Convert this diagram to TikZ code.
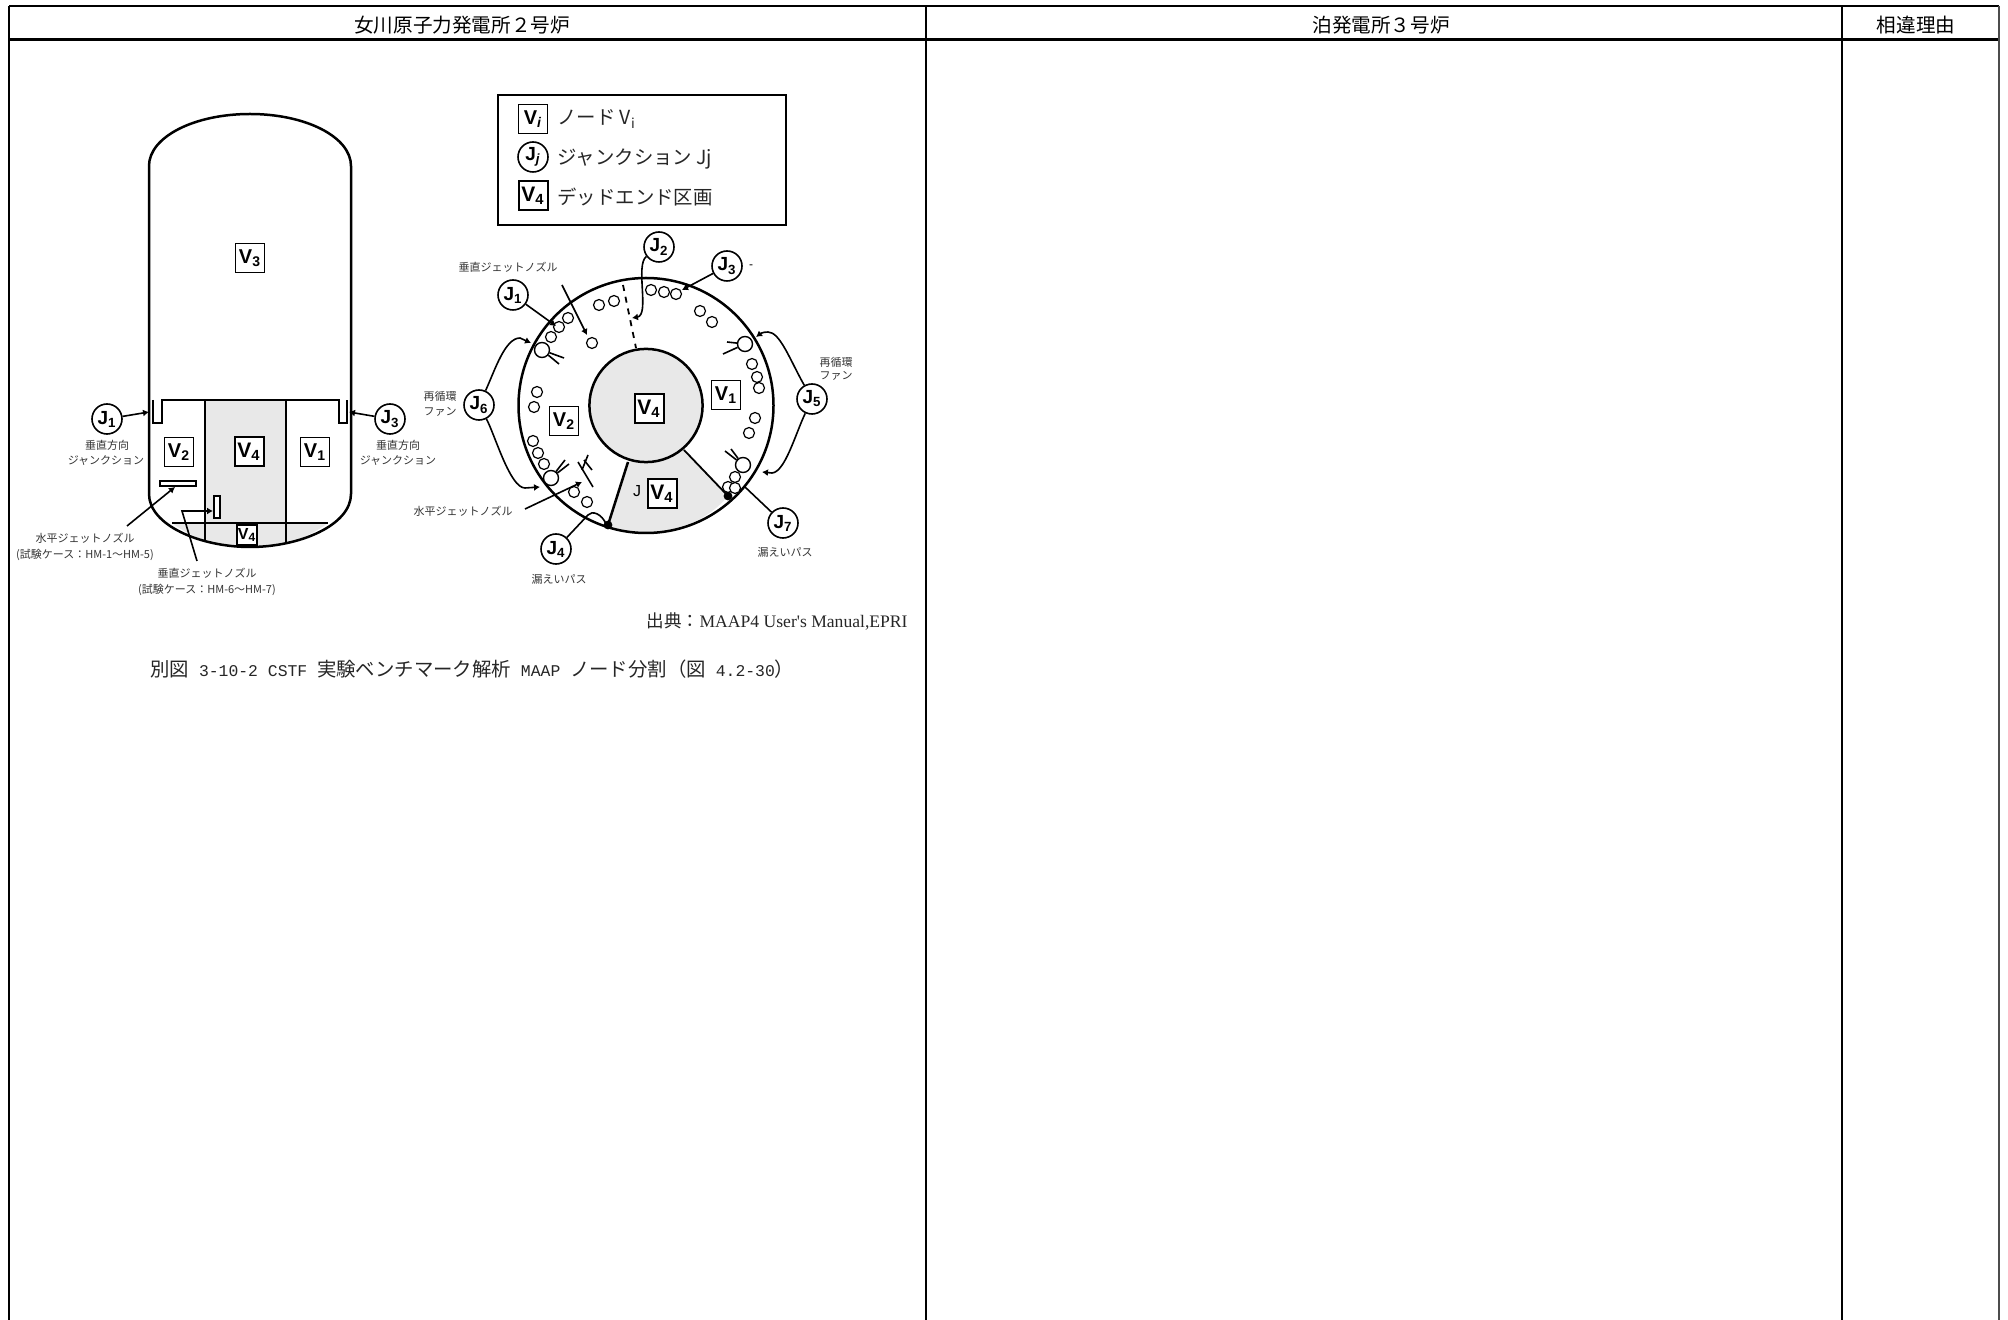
\documentclass[tikz,border=0pt]{standalone}
\usepackage{fontspec}
\setmainfont{Liberation Sans}
\newfontfamily\cjk{Noto Sans CJK JP}
\newfontfamily\serifl{Liberation Serif}
\newfontfamily\monol{Liberation Mono}
\usetikzlibrary{arrows.meta}
\newcommand{\fsz}[1]{\fontsize{#1}{#1}\selectfont}
\newcommand{\hw}[1]{{\monol\fsz{8.2}#1}}
\tikzset{
  x=0.5pt,y=-0.5pt,
  rule/.style={line width=1.2pt,black},
  vbox/.style={draw,line width=0.85pt,fill=white,minimum size=14.5pt,inner sep=0pt,font=\bfseries\fsz{10}},
  vboxd/.style={vbox,line width=1pt,font=\bfseries\fsz{10.5}},
  jcirc/.style={draw,circle,line width=0.8pt,fill=white,minimum size=15pt,inner sep=0pt,font=\bfseries\fsz{9.5}},
  wall/.style={line width=1.25pt,black},
  thin line/.style={line width=0.8pt,black},
  blobarrow/.style={line width=0.8pt,black,-{Latex[length=3pt,width=3.5pt]}},
  hole/.style={draw,circle,line width=0.6pt,minimum size=5.5pt,inner sep=0pt,fill=white},
  fanb/.style={draw,circle,line width=0.7pt,minimum size=7.5pt,inner sep=0pt,fill=white},
  tiny/.style={font=\cjk\fsz{5.5},text=black!80,inner sep=0pt},
  legendtext/.style={anchor=west,font=\cjk\fsz{9.7},inner sep=0pt,text=black!85},
  head/.style={font=\cjk\fsz{9.8},inner sep=0pt},
  deadfill/.style={fill=black!9},
}
\begin{document}
\begin{tikzpicture}
\useasboundingbox (0,0) rectangle (2008,1320);
% table
\draw[rule,line width=1.3pt] (9,6) -- (1999,6);
\draw[rule,line width=1.5pt] (9,40) -- (1999,40);
\draw[rule] (9,6) -- (9,1320);
\draw[rule] (926,6) -- (926,1320);
\draw[rule] (1842,6) -- (1842,1320);
\draw[rule,black!70] (1999,6) -- (1999,1320);
\node[head] (h1) at (462,25) {女川原子力発電所２号炉};
\node[head] (h2) at (1381,25) {泊発電所３号炉};
\node[head] (h3) at (1916,25) {相違理由};

% vessel (left view)
\fill[deadfill] (205,400) rectangle (286,523);
\fill[deadfill] (172,523) -- (328,523) .. controls (305,540) and (280,547) .. (250,547) .. controls (220,547) and (195,540) .. (172,523) -- cycle;
\draw[wall] (149,494) -- (149,166) .. controls (149,137) and (194,114) .. (250,114) .. controls (306,114) and (351,137) .. (351,166) -- (351,494)
  .. controls (351,525) and (300,547) .. (250,547) .. controls (200,547) and (149,525) .. (149,494) -- cycle;
\draw[wall] (153,400) -- (153,423) -- (162,423) -- (162,400) -- (339,400) -- (339,423) -- (347,423) -- (347,400);
\draw[wall,line width=0.9pt] (205,400) -- (205,542);
\draw[wall,line width=0.9pt] (286,400) -- (286,542);
\draw[wall,line width=0.9pt] (172,523) -- (328,523);
\node[vbox] (v3) at (250,258) {V\textsubscript{3}};
\node[vbox] (v2) at (179,452) {V\textsubscript{2}};
\node[vboxd] (v4a) at (249,452) {V\textsubscript{4}};
\node[vbox] (v1) at (315,452) {V\textsubscript{1}};
\node[vboxd,minimum size=10pt,font=\bfseries\fsz{8}] (v4b) at (247,535) {V\textsubscript{4}};
\draw[thin line,fill=white] (160,481) rectangle (196,486);
\draw[thin line,fill=white] (214,496) rectangle (220,518);
\node[jcirc] (ja1) at (107,419) {J\textsubscript{1}};
\node[jcirc] (ja3) at (390,419) {J\textsubscript{3}};
\coordinate (ja1e) at (149,412);
\coordinate (ja3e) at (349,412);
\draw[blobarrow] (ja1) -- (ja1e);
\draw[blobarrow] (ja3) -- (ja3e);
\node[tiny] (la1) at (107,445) {垂直方向};
\node[tiny] (la2) at (106,461) {ジャンクション};
\node[tiny] (la3) at (398,445) {垂直方向};
\node[tiny] (la4) at (398,461) {ジャンクション};
\node[tiny] (la5) at (85,538) {水平ジェットノズル};
\node[tiny] (la6) at (85,555) {(試験ケース：HM-1～HM-5)};
\node[tiny] (la7) at (207,573) {垂直ジェットノズル};
\node[tiny] (la8) at (207,590) {(試験ケース：HM-6～HM-7)};
\coordinate (na1) at (127,526);
\coordinate (na2) at (175,487);
\coordinate (na3) at (197,561);
\coordinate (na4) at (182,511);
\coordinate (na5) at (213,511);
\draw[blobarrow] (na1) -- (na2);
\draw[blobarrow] (na3) -- (na4) -- (na5);

% legend
\draw[wall,line width=0.9pt] (498,95) rectangle (786,225);
\node[vbox] (lv) at (533,119) {V\textsubscript{\itshape i}};
\node[jcirc] (lj) at (533,157) {J\textsubscript{\itshape j}};
\node[vboxd] (lv4) at (533,196) {V\textsubscript{4}};
\node[legendtext] (lt1) at (557,119) {ノード V\textsubscript{i}};
\node[legendtext] (lt2) at (557,159) {ジャンクション Jj};
\node[legendtext] (lt3) at (557,197) {デッドエンド区画};

% plan view
\coordinate (c) at (646,405.5);
\fill[deadfill] (628,462) -- (608,525) -- (608,528) .. controls (650,540) and (700,530) .. (728,496) -- (684,450) -- cycle;
\draw[wall] (c) circle[radius=63.75pt];
\draw[wall,deadfill] (c) circle[radius=28.3pt];
\draw[wall] (628,462) -- (608,525);
\draw[wall,line width=0.9pt] (684,450) -- (728,496);
\draw[thin line,dashed,line width=0.9pt] (623,285) -- (636,348);
\fill (608,525) circle[radius=2.2pt];
\fill (728,496) circle[radius=2.2pt];
\foreach \p in {(599,305),(614,301),(651,290),(664,292),(676,294),(700,311),(712,322),(568,318),(559,327),(551,337),(592,343),(752,364),(757,377),(759,388),(755,418),(749,433),(735,477),(728,487),(735,488),(537,392),(534,407),(533,441),(538,453),(544,464),(574,492),(587,502)}
  \node[hole] at \p {};
\node[fanb] (f1) at (542,350) {};
\node[fanb] (f2) at (745,344) {};
\node[fanb] (f3) at (743,465) {};
\node[fanb] (f4) at (551,478) {};
\draw[thin line] (f1) -- ++(22,8) (f1) -- ++(17,14);
\draw[thin line] (f2) -- ++(-22,10) (f2) -- ++(-18,-2);
\draw[thin line] (f3) -- ++(-18,-14) (f3) -- ++(-12,-16);
\draw[thin line] (f4) -- ++(18,-14) (f4) -- ++(14,-18);
\draw[thin line] (578,462) -- (593,487) (584,460) -- (592,470);
\draw[thin line] (582,470) -- (588,455);
\node[vbox] (pv1) at (726,395) {V\textsubscript{1}};
\node[vbox] (pv2) at (564,421) {V\textsubscript{2}};
\node[vboxd] (pv4a) at (649,409) {V\textsubscript{4}};
\node[vboxd] (pv4b) at (662,494) {V\textsubscript{4}};
\node[font=\fsz{8},inner sep=0pt] (jj) at (637,491) {J};
\node[jcirc] (j1) at (513,295) {J\textsubscript{1}};
\node[jcirc] (j2) at (659,247) {J\textsubscript{2}};
\node[jcirc] (j3) at (727,266) {J\textsubscript{3}};
\node[jcirc] (j4) at (556,549) {J\textsubscript{4}};
\node[jcirc] (j5) at (812,399) {J\textsubscript{5}};
\node[jcirc] (j6) at (479,405) {J\textsubscript{6}};
\node[jcirc] (j7) at (783,523) {J\textsubscript{7}};
\coordinate (e1) at (556,326);
\coordinate (e2) at (632,318);
\coordinate (e3) at (682,290);
\coordinate (e4) at (588,515);
\coordinate (e7) at (745,487);
\coordinate (e5a) at (756,337);
\coordinate (e5b) at (762,472);
\coordinate (e6a) at (531,343);
\coordinate (e6b) at (540,487);
\draw[blobarrow] (j1) -- (e1);
\draw[blobarrow] (j2) .. controls (635,265) and (650,315) .. (e2);
\draw[blobarrow] (j3) -- (e3);
\draw[thin line] (j4) -- (e4) .. controls (592,510) and (602,514) .. (606,524);
\draw[thin line] (j7) -- (e7);
\draw[blobarrow] (j5) .. controls (790,360) and (780,332) .. (768,332) .. controls (762,332) and (760,334) .. (e5a);
\draw[blobarrow] (j5) .. controls (795,435) and (785,472) .. (772,473) -- (e5b);
\draw[blobarrow] (j6) .. controls (495,370) and (505,338) .. (520,338) -- (e6a);
\draw[blobarrow] (j6) .. controls (495,435) and (510,488) .. (525,488) -- (e6b);
\coordinate (k1) at (562,285);
\coordinate (k2) at (587,335);
\coordinate (k3) at (525,509);
\coordinate (k4) at (582,482);
\draw[blobarrow] (k1) -- (k2);
\draw[blobarrow] (k3) -- (k4);
\node[tiny] (p1) at (508,267) {垂直ジェットノズル};
\node[tiny] (p2) at (836,362) {再循環};
\node[tiny] (p3) at (836,376) {ファン};
\node[tiny] (p4) at (440,396) {再循環};
\node[tiny] (p5) at (440,412) {ファン};
\node[tiny] (p6) at (463,511) {水平ジェットノズル};
\node[tiny] (p7) at (559,579) {漏えいパス};
\node[tiny] (p8) at (785,552) {漏えいパス};
\node[font=\fsz{6},inner sep=0pt] (dot) at (751,267) {-};
% source and caption
\node[anchor=east,inner sep=0pt,font=\fsz{8.8},text=black!85] (src) at (908,621) {{\cjk 出典：}{\serifl MAAP4 User's Manual,EPRI}};
\node[anchor=west,inner sep=0pt,font=\cjk\fsz{9.7},text=black!85] (cap) at (150,669) {別図\hw{ 3-10-2 CSTF }実験ベンチマーク解析\hw{ MAAP }ノード分割（図\hw{ 4.2-30}）};
\end{tikzpicture}
\end{document}
